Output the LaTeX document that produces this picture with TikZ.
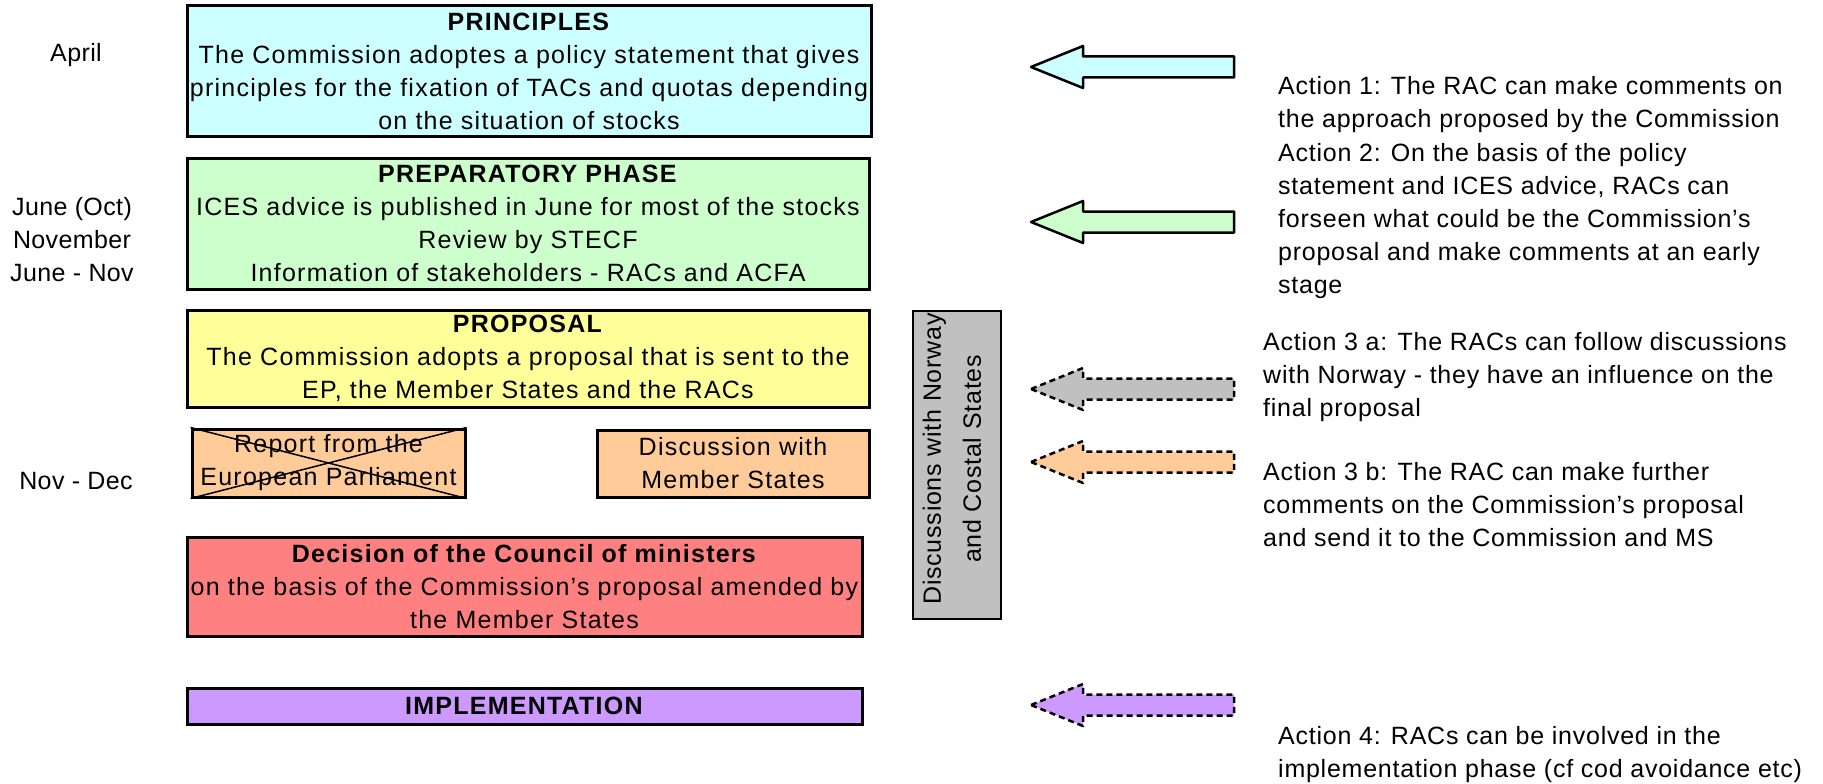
\documentclass[tikz,border=0pt]{standalone}
\usepackage{fontspec}
\setmainfont{Liberation Sans}
\definecolor{princ}{HTML}{CCFFFF}
\definecolor{prep}{HTML}{CCFFCC}
\definecolor{prop}{HTML}{FFFF99}
\definecolor{disc}{HTML}{FFCC99}
\definecolor{dec}{HTML}{FF8080}
\definecolor{impl}{HTML}{CC99FF}
\definecolor{norw}{HTML}{C0C0C0}
% block arrow pointing left: style, middle y
\newcommand\blockarrow[2]{%
  \draw[#1] (1031,#2) -- (1083,#2-21) -- (1083,#2-10.5) -- (1234,#2-10.5)
    -- (1234,#2+10.5) -- (1083,#2+10.5) -- (1083,#2+21) -- cycle;}
\newcommand\txt[1]{\fontsize{25}{33}\selectfont\addfontfeature{LetterSpace=#1}}
\begin{document}
\begin{tikzpicture}[x=1pt, y=-1pt,
    box/.style = {draw, line width=3pt, align=center, inner sep=0pt, font=\txt{5}},
    lbl/.style = {align=center, inner sep=0pt, font=\txt{1.5}},
    act/.style = {align=left, anchor=west, inner sep=0pt, font=\txt{3}},
    fullarrow/.style = {draw, line width=2.5pt, line join=round},
    dasharrow/.style = {draw, line width=2.5pt, dash pattern=on 6pt off 4pt, line join=round}]
  \useasboundingbox (0,0) rectangle (1823,784);
  % process boxes
  \node[box, fill=princ, minimum width=684, minimum height=130] (princ) at (529,71)
    {\textbf{PRINCIPLES}\\The Commission adoptes a policy statement that gives\\
     principles for the fixation of TACs and quotas depending\\on the situation of stocks};
  \node[box, fill=prep, minimum width=682, minimum height=131] (prep) at (528,223.5)
    {\textbf{PREPARATORY PHASE}\\ICES advice is published in June for most of the stocks\\
     Review by STECF\\Information of stakeholders - RACs and ACFA};
  \node[box, fill=prop, minimum width=682, minimum height=97] (prop) at (528,358.5)
    {\textbf{PROPOSAL}\\The Commission adopts a proposal that is sent to the\\
     EP, the Member States and the RACs};
  \node[box, fill=disc, minimum width=273, minimum height=68] (rep) at (328.5,463)
    {Report from the\\European Parliament};
  \draw[line width=1.5pt] (rep.north west) -- (rep.south east) (rep.south west) -- (rep.north east);
  \node[box, fill=disc, minimum width=272, minimum height=67] (ms) at (733,463.5)
    {Discussion with\\Member States};
  \node[box, fill=dec, minimum width=675, minimum height=99] (dec) at (524.5,586.5)
    {\textbf{Decision of the Council of ministers}\\on the basis of the Commission's proposal amended by\\
     the Member States};
  \node[box, fill=impl, minimum width=675, minimum height=36] (impl) at (524.5,706)
    {\textbf{IMPLEMENTATION}};
  \node[box, line width=2pt, fill=norw, minimum width=88, minimum height=308] (norw) at (957,465) {};
  \node[lbl, rotate=90, font=\fontsize{25}{40}\selectfont\addfontfeature{LetterSpace=3}]
    (norwtxt) at (952,459) {Discussions with Norway\\and Costal States};
  % dates
  \node[lbl] (apr) at (76,55) {April};
  \node[lbl] (jun) at (72,240) {June (Oct)\\November\\June - Nov};
  \node[lbl] (nov) at (76,481) {Nov - Dec};
  % arrows
  \blockarrow{fullarrow, fill=princ}{67}
  \blockarrow{fullarrow, fill=prep}{222}
  \blockarrow{dasharrow, fill=norw}{389}
  \blockarrow{dasharrow, fill=disc}{462}
  \blockarrow{dasharrow, fill=impl}{705}
  % actions
  \node[act] (act1) at (1278,104.5) {Action 1: The RAC can make comments on\\the approach proposed by the Commission};
  \node[act] (act2) at (1278,221) {Action 2: On the basis of the policy\\statement and ICES advice, RACs can\\
    forseen what could be the Commission's\\proposal and make comments at an early\\stage};
  \node[act] (act3a) at (1263,377) {Action 3 a: The RACs can follow discussions\\with Norway - they have an influence on the\\final proposal};
  \node[act] (act3b) at (1263,505) {Action 3 b: The RAC can make further\\comments on the Commission's proposal\\and send it to the Commission and MS};
  \node[act] (act4) at (1278,755) {Action 4: RACs can be involved in the\\implementation phase (cf cod avoidance etc)};
\end{tikzpicture}
\end{document}
